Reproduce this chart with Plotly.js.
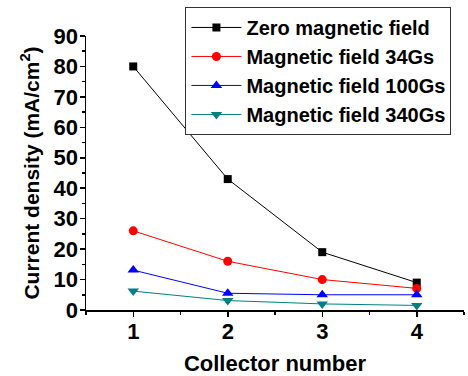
<!DOCTYPE html>
<html><head><meta charset="utf-8">
<script src="https://cdn.plot.ly/plotly-3.0.1.min.js"></script>
<style>html,body{margin:0;padding:0;background:#fff}#c{width:468px;height:376px}</style>
</head><body><div id="c"></div>
<script>
const collectors = [1, 2, 3, 4];
const zeroField = [80, 43, 19, 9];
const field34 = [26, 16, 10, 7.1];
const field100 = [13.1, 5.5, 5.0, 5.0];
const field340 = [6.2, 3.1, 2.0, 1.5];
const names = ["Zero magnetic field", "Magnetic field 34Gs", "Magnetic field 100Gs", "Magnetic field 340Gs"];

const F = "Arial, 'Liberation Sans', sans-serif";
function tr(y, name, color, symbol, size) {
  return {x: collectors, y: y, name: name, type: 'scatter', mode: 'lines+markers',
    line: {color: color, width: 1}, marker: {color: color, symbol: symbol, size: size}};
}
const data = [
  tr(zeroField, names[0], '#000000', 'square', 8),
  tr(field34, names[1], '#ff0000', 'circle', 9),
  tr(field100, names[2], '#0000ff', 'triangle-up', 10),
  tr(field340, names[3], '#008080', 'triangle-down', 10)
];
const layout = {
  width: 468, height: 376,
  margin: {l: 86, r: 4, t: 36, b: 66, autoexpand: false},
  paper_bgcolor: '#fff', plot_bgcolor: '#fff',
  font: {family: F, color: '#000'},
  showlegend: true,
  legend: {x: 0.263, y: 1.106, xanchor: 'left', yanchor: 'top',
    bordercolor: '#333', borderwidth: 1, bgcolor: '#fff',
    font: {family: F, size: 20, weight: 'bold', color: '#000'},
    itemwidth: 50, tracegroupgap: 0},
  xaxis: {range: [0.5, 4.5], tickvals: collectors, ticktext: ['1','2','3','4'],
    showgrid: false, zeroline: false, showline: true, linecolor: '#000', linewidth: 1.5,
    ticks: 'outside', ticklen: 5, tickwidth: 1.5, tickcolor: '#000', ticklabelstandoff: -4,
    minor: {dtick: 0.5, tick0: 0.5, ticks: 'outside', ticklen: 3, tickwidth: 1.5, tickcolor: '#000'},
    tickfont: {family: F, size: 22, weight: 'bold'},
    title: {text: 'Collector number', font: {family: F, size: 22, weight: 'bold'}, standoff: 24}},
  yaxis: {range: [0, 90], dtick: 10, tick0: 0,
    showgrid: false, zeroline: false, showline: true, linecolor: '#000', linewidth: 1.5,
    ticks: 'outside', ticklen: 5, tickwidth: 1.5, tickcolor: '#000', ticklabelstandoff: -3,
    minor: {dtick: 5, ticks: 'outside', ticklen: 3, tickwidth: 1.5, tickcolor: '#000'},
    tickfont: {family: F, size: 22, weight: 'bold'},
    title: {text: 'Current density (mA/cm<sup>2</sup>)', font: {family: F, size: 21, weight: 'bold'}, standoff: 8}}
};
Plotly.newPlot('c', data, layout, {staticPlot: true});
</script></body></html>
